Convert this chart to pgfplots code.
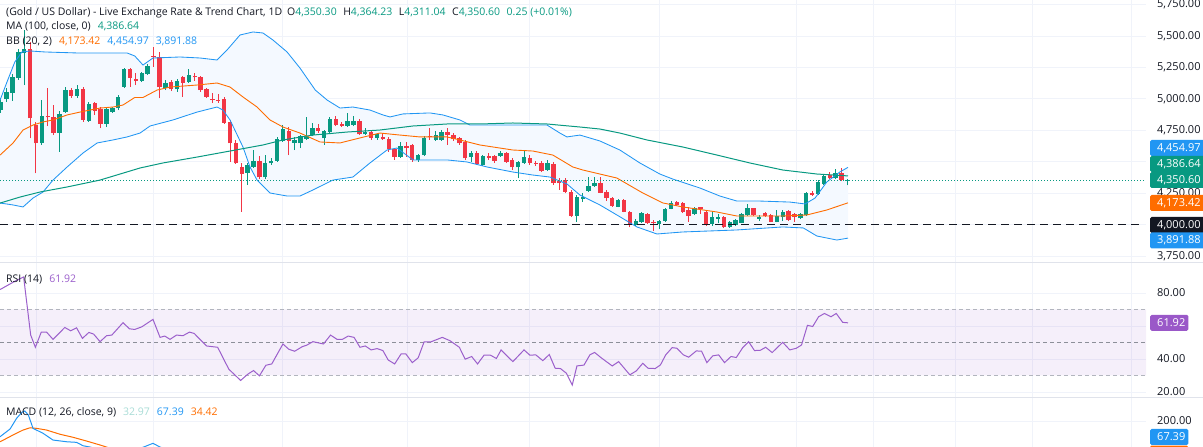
\documentclass[border=0pt]{standalone}
\usepackage{fontspec}
\setmainfont{Open Sans}
\usepackage{pgfplots}
\usepackage{pgfplotstable}
\pgfplotsset{compat=1.18}
\usepgfplotslibrary{fillbetween}

\definecolor{tvgreen}{HTML}{089981}
\definecolor{tvred}{HTML}{F23645}
\definecolor{tvorange}{HTML}{FF6D00}
\definecolor{tvblue}{HTML}{2196F3}
\definecolor{tvpurple}{HTML}{9B5FCB}
\definecolor{tvpbox}{HTML}{9A58C8}
\definecolor{tvtext}{HTML}{131722}
\definecolor{tvgrid}{HTML}{F0F3FA}
\definecolor{tvsep}{HTML}{E0E3EB}
\definecolor{tvdashA}{HTML}{B2B5BE}
\definecolor{tvdashB}{HTML}{8C8F99}
\definecolor{tvpale}{HTML}{A8DCD6}
\definecolor{bbfill}{HTML}{F4F9FF}

\newcommand\lf{\fontsize{10.5bp}{12bp}\selectfont}
\newcommand\tf{\fontsize{11bp}{13bp}\selectfont}

% green (up) candles: index open high low close
\pgfplotstableread{
i o h l c
0 4911 5007 4888 4977
1 4996 5086 4975 5057
2 5049 5198 4985 5176
3 5164 5397 5150 5375
4 5367 5548 5110 5394
7 4646 4991 4633 4864
10 4731 4903 4580 4880
11 4898 5094 4888 5070
13 5023 5110 5007 5076
15 4826 4975 4816 4957
18 4800 4935 4776 4917
19 4898 4935 4888 4925
20 4925 5031 4911 5017
21 5097 5245 5086 5235
24 5144 5214 5134 5203
25 5198 5277 5190 5261
28 5084 5150 5070 5128
30 5076 5158 5055 5144
32 5136 5235 5126 5190
42 4413 4490 4315 4474
43 4460 4593 4450 4508
45 4376 4553 4362 4492
46 4487 4529 4474 4508
47 4508 4697 4498 4678
48 4667 4792 4657 4758
50 4651 4699 4593 4673
51 4646 4712 4609 4704
52 4681 4858 4673 4699
53 4712 4805 4704 4766
55 4686 4752 4633 4744
56 4739 4856 4728 4840
59 4786 4885 4776 4826
60 4792 4864 4784 4826
62 4718 4766 4712 4739
64 4691 4731 4673 4718
68 4540 4659 4530 4625
71 4514 4561 4498 4553
72 4553 4704 4545 4691
74 4673 4744 4667 4712
75 4673 4752 4667 4739
80 4540 4585 4500 4572
82 4474 4553 4466 4545
85 4545 4585 4540 4572
88 4455 4506 4368 4495
89 4492 4593 4482 4535
93 4434 4514 4426 4487
98 4068 4235 4023 4217
99 4206 4249 4182 4222
100 4269 4376 4261 4307
101 4307 4376 4301 4333
105 4142 4203 4137 4195
108 3996 4044 3989 4031
109 4023 4102 4015 4094
112 4004 4039 3962 4031
113 4031 4132 4023 4121
114 4126 4190 4121 4174
118 4084 4140 4076 4129
121 4004 4102 3989 4058
122 4047 4084 4010 4063
124 3978 4028 3973 4023
125 3996 4047 3989 4036
126 4015 4092 4010 4084
127 4076 4164 4068 4129
129 4047 4076 4031 4058
132 4023 4116 4018 4068
133 4058 4116 4031 4102
136 4050 4092 4044 4084
137 4076 4261 4068 4253
139 4243 4354 4235 4341
140 4323 4402 4315 4386
142 4368 4440 4362 4408
144 4350.3 4364.23 4311.04 4350.6
}\upc

% red (down) candles
\pgfplotstableread{
i o h l c
5 5394 5452 4686 4845
6 4792 4816 4408 4646
8 4864 5084 4784 4853
9 4858 4951 4712 4731
12 5070 5086 5007 5023
14 5076 5094 4816 4832
16 4965 4977 4872 4906
17 4917 4935 4768 4800
22 5235 5245 5097 5164
23 5158 5206 5110 5144
26 5341 5415 5256 5331
27 5331 5375 5004 5092
29 5136 5150 5062 5076
31 5171 5182 5017 5128
33 5182 5203 5144 5171
34 5171 5182 5055 5070
35 5076 5086 5007 5017
36 4998 5044 4965 4990
37 4993 5039 4967 4985
38 4998 5015 4800 4810
39 4818 4832 4500 4646
40 4646 4673 4482 4487
41 4460 4490 4102 4402
44 4508 4545 4362 4376
49 4747 4776 4553 4667
54 4766 4798 4728 4747
57 4840 4864 4784 4792
58 4796 4818 4778 4788
61 4826 4840 4712 4718
63 4739 4744 4673 4691
65 4699 4731 4673 4678
66 4678 4699 4580 4599
67 4599 4609 4514 4540
69 4625 4659 4540 4607
70 4633 4641 4500 4514
73 4703 4766 4673 4695
76 4739 4766 4633 4712
77 4712 4726 4667 4678
78 4686 4697 4633 4646
79 4659 4673 4514 4527
81 4572 4588 4474 4482
83 4545 4567 4514 4532
84 4545 4553 4492 4508
86 4572 4580 4490 4500
87 4514 4527 4434 4455
90 4532 4553 4474 4492
91 4492 4508 4466 4482
92 4492 4506 4418 4428
94 4482 4498 4315 4333
95 4343 4370 4275 4327
96 4354 4368 4251 4261
97 4261 4275 4060 4068
102 4333 4381 4249 4253
103 4261 4275 4190 4209
104 4209 4219 4140 4148
106 4195 4203 4097 4102
107 4102 4108 3978 3996
110 4084 4092 4007 4015
111 4023 4036 3951 4010
115 4182 4190 4148 4156
116 4174 4179 4092 4102
117 4116 4142 4023 4068
119 4136 4142 4084 4128
120 4102 4110 3989 3996
123 4063 4068 3973 3978
128 4129 4134 4068 4076
130 4094 4102 4060 4068
131 4076 4084 4018 4023
134 4110 4116 4028 4036
135 4084 4092 4023 4058
138 4253 4267 4227 4235
141 4394 4421 4362 4368
143 4408 4448 4346 4354
}\dnc

% Bollinger upper band
\pgfplotstableread{
i v
-0.1 4991
1.2 5150
2.4 5293
3.6 5373
5.0 5381
7.5 5373
13.0 5365
16.9 5365
21.5 5365
22.8 5341
24.2 5269
25.9 5325
30.5 5333
33.9 5325
36.8 5309
38.5 5389
40.7 5508
42.9 5532
44.6 5524
46.3 5468
48.7 5373
50.9 5245
53.5 5070
55.5 4991
57.7 4927
59.9 4935
62.8 4911
65.0 4872
66.2 4856
68.4 4880
73.0 4888
75.2 4872
78.1 4832
79.8 4792
81.5 4792
87.1 4792
92.9 4792
95.1 4728
96.3 4697
98.5 4712
101.9 4665
105.3 4593
108.7 4490
112.1 4402
114.3 4362
118.9 4291
122.3 4227
125.2 4187
129.1 4187
134.2 4179
136.8 4164
138.5 4211
140.5 4339
142.7 4418
144.1 4455
}\bbup

% Bollinger basis
\pgfplotstableread{
i v
-0.1 4553
2.1 4649
3.8 4752
5.5 4792
7.2 4816
8.9 4832
11.3 4872
13.5 4895
16.9 4927
19.1 4935
20.8 4951
22.8 5011
24.2 5011
26.6 5070
28.8 5094
33.4 5110
36.8 5126
39.0 5094
41.2 5015
43.6 4935
45.8 4832
48.0 4776
50.9 4728
54.3 4657
57.7 4649
61.1 4689
64.5 4728
67.9 4712
71.3 4697
75.9 4697
78.1 4673
81.5 4633
87.1 4593
90.5 4585
93.9 4553
97.3 4458
99.0 4434
104.8 4370
109.2 4251
112.6 4172
116.0 4140
121.8 4100
125.2 4068
133.0 4068
137.1 4076
140.5 4116
144.1 4173
}\bbmid

% Bollinger lower band
\pgfplotstableread{
i v
-0.1 4171
2.1 4156
3.8 4140
5.5 4211
7.2 4259
8.9 4354
11.3 4458
14.0 4569
16.4 4649
19.1 4673
21.5 4697
23.7 4728
25.4 4784
29.3 4832
33.4 4895
36.8 4935
37.8 4911
39.0 4832
41.2 4617
42.4 4458
43.6 4354
45.8 4251
48.7 4227
50.9 4227
53.1 4275
56.5 4354
59.9 4378
62.8 4490
65.7 4593
67.4 4609
70.1 4514
75.9 4514
79.3 4498
82.7 4458
87.1 4418
90.5 4394
93.4 4378
96.3 4323
98.5 4235
101.9 4156
104.8 4076
108.2 3981
111.6 3925
116.0 3941
125.2 3957
133.0 3981
136.5 3973
138.8 3909
142.2 3877
144.1 3892
}\bblo

% MA 100
\pgfplotstableread{
i v
-0.1 4171
3.3 4219
6.7 4259
11.3 4299
16.9 4354
23.7 4450
27.6 4490
33.4 4537
39.0 4585
44.6 4633
48.0 4673
53.1 4712
58.9 4736
64.5 4752
70.1 4784
75.9 4800
81.5 4800
87.1 4808
92.9 4800
98.5 4776
101.9 4760
105.3 4728
109.9 4673
116.0 4617
121.8 4553
127.4 4490
133.0 4434
138.8 4402
144.1 4387
}\maline

% RSI 14
\pgfplotstableread{
i v
-0.1 82.1
2.5 87.3
3.9 89.7
5.1 54.5
5.9 47.1
6.9 56.3
7.8 56.3
8.9 51.9
10.9 59.1
11.9 57.1
12.9 58.9
13.9 52.5
15.0 56.1
15.8 55.1
16.9 50.5
18.0 54.1
18.9 54.5
20.8 62.0
21.9 58.3
22.8 57.9
24.0 59.5
25.9 64.0
27.1 53.1
27.9 53.9
28.8 51.9
29.9 54.5
31.0 54.1
32.1 56.3
32.9 55.5
35.0 47.9
36.9 47.1
38.8 33.8
40.8 27.0
42.1 31.0
43.0 33.0
44.0 29.8
45.1 36.2
46.1 37.0
48.0 49.1
49.0 45.9
50.0 44.7
51.3 47.5
52.0 48.3
53.1 50.5
54.9 49.1
56.1 54.5
57.2 51.9
58.1 51.9
59.1 53.9
60.1 53.1
61.1 47.1
62.0 47.9
63.0 45.5
64.0 46.3
65.0 45.1
65.9 39.4
67.0 37.0
68.1 43.1
68.9 43.1
70.0 37.8
71.0 40.7
72.0 50.3
73.1 50.3
75.1 53.1
76.4 51.1
78.0 47.1
79.0 39.9
80.1 41.5
81.1 37.0
82.2 42.3
83.3 42.3
84.3 40.3
85.1 45.5
87.1 38.4
89.0 45.5
90.0 42.3
91.0 42.5
92.2 39.0
93.3 42.7
94.3 34.4
95.2 34.2
96.2 31.4
97.2 24.2
98.0 35.8
99.2 36.3
100.2 42.5
101.0 44.0
102.1 40.8
104.0 35.8
105.1 38.4
107.0 30.4
108.1 32.8
109.2 37.4
110.1 34.4
111.3 34.2
112.2 36.4
113.1 42.5
114.2 46.9
115.0 46.5
116.1 42.5
117.0 41.1
118.3 44.9
119.2 44.7
120.1 37.8
121.1 41.9
122.1 42.5
123.1 37.8
124.2 41.5
125.1 40.9
126.2 46.9
127.2 50.5
128.2 45.1
129.2 45.3
130.1 47.1
131.2 43.9
133.0 50.1
134.2 45.5
135.3 46.5
136.2 48.5
137.2 60.4
138.1 59.7
139.1 65.6
140.1 67.6
141.2 65.6
142.1 67.6
143.2 62.2
144.1 61.92
}\rsi

\pgfplotsset{
  tvaxis/.style={
    scale only axis, width=1146bp, anchor=south west,
    xmin=-0.119, xmax=194.78,
    axis line style={draw=none}, tick style={draw=none},
    xtick={6,25.9,48,69.1,90,112.1,135.3,148.4,162.3,175.4,192.35},
    xticklabels={},
    xmajorgrids, ymajorgrids,
    grid style={tvgrid, line width=0.9bp},
    yticklabel pos=right,
    yticklabel style={anchor=west, inner sep=0pt, xshift=11bp, font=\tf, text=tvtext},
    clip=true,
  },
  wick/.style={draw=#1, line width=1bp, forget plot, mark=none,
    quiver={u=0, v={\thisrow{h}-\thisrow{l}}}},
  body/.style={draw=#1, line width=4.4bp, forget plot, mark=none,
    quiver={u=0, v={max(abs(\thisrow{c}-\thisrow{o}),9)}}},
}

\begin{document}
\begin{tikzpicture}

% ---------------- price pane ----------------
\begin{axis}[tvaxis, at={(0bp,184bp)}, height=263bp,
  ymin=3694.2, ymax=5786.4,
  ytick={3750,4000,4250,4500,4750,5000,5250,5500,5750},
  yticklabels={{3,750.00},{},{4,250.00},{},{4,750.00},{5,000.00},{5,250.00},{5,500.00},{5,750.00}}]
  \addplot[draw=none, name path=bbu, forget plot] table[x=i, y=v] {\bbup};
  \addplot[draw=none, name path=bbl, forget plot] table[x=i, y=v] {\bblo};
  \addplot[fill=bbfill, draw=none, forget plot] fill between[of=bbu and bbl];

  \addplot[wick=tvgreen] table[x=i, y=l] {\upc};
  \addplot[body=tvgreen] table[x=i, y expr={min(\thisrow{o},\thisrow{c})-(max(abs(\thisrow{c}-\thisrow{o}),9)-abs(\thisrow{c}-\thisrow{o}))/2}] {\upc};
  \addplot[wick=tvred] table[x=i, y=l] {\dnc};
  \addplot[body=tvred] table[x=i, y expr={min(\thisrow{o},\thisrow{c})-(max(abs(\thisrow{c}-\thisrow{o}),9)-abs(\thisrow{c}-\thisrow{o}))/2}] {\dnc};

  \addplot[tvblue, line width=0.85bp, forget plot] table[x=i, y=v] {\bbup};
  \addplot[tvblue, line width=0.85bp, forget plot] table[x=i, y=v] {\bblo};
  \addplot[tvorange, line width=0.9bp, forget plot] table[x=i, y=v] {\bbmid};
  \addplot[tvgreen, line width=1bp, forget plot] table[x=i, y=v] {\maline};

  \addplot[tvtext, line width=1.6bp, dash pattern=on 8bp off 5bp, forget plot] coordinates {(-0.119,4000) (194.3,4000)};
  \addplot[tvgreen, line width=0.9bp, dash pattern=on 1bp off 2bp, forget plot] coordinates {(-0.119,4350.6) (194.78,4350.6)};
\end{axis}

% ---------------- RSI pane ----------------
\begin{axis}[tvaxis, at={(0bp,49bp)}, height=135bp,
  ymin=16.36, ymax=98.18, ytick={20,40,60,80},
  yticklabels={20.00,40.00,{},80.00}]
  \addplot[draw=none, fill=tvpurple, fill opacity=0.1, forget plot] coordinates {(-1,30) (196,30) (196,70) (-1,70) (-1,30)};
  \addplot[tvdashA, line width=0.9bp, dash pattern=on 4bp off 3bp, forget plot] coordinates {(-0.119,70) (194.78,70)};
  \addplot[tvdashA, line width=0.9bp, dash pattern=on 4bp off 3bp, forget plot] coordinates {(-0.119,30) (194.78,30)};
  \addplot[tvdashB, line width=0.9bp, dash pattern=on 4bp off 3bp, forget plot] coordinates {(-0.119,50) (194.78,50)};
  \addplot[tvpurple, line width=1bp, forget plot] table[x=i, y=v] {\rsi};
\end{axis}

% ---------------- MACD pane ----------------
\begin{axis}[tvaxis, at={(0bp,0bp)}, height=49bp,
  ymin=-15.5, ymax=390.6, ytick={200}, yticklabels={200.00}]
  \addplot[tvorange, line width=1bp, forget plot] coordinates {
    (-0.1,28) (2.1,84) (3.8,125) (5.0,144) (6.1,139) (7.8,125) (10.1,90)
    (12.3,65) (14.6,34) (16.9,1) (18.0,-16) (19.2,-35)};
  \addplot[tvblue, line width=1bp, forget plot] coordinates {
    (-0.1,70) (1.6,134) (2.7,222) (3.6,272) (4.1,283) (4.7,250) (5.5,139)
    (7.2,98) (8.9,42) (11.2,28) (12.9,23) (14.0,-5) (15.2,-16) (16.3,-30)};
  \addplot[tvblue, line width=1bp, forget plot] coordinates {
    (23.5,-30) (24.3,-16) (25.9,15) (27.1,-16) (27.9,-30)};
\end{axis}

% pane separators
\draw[tvsep, line width=1bp] (0bp,184bp) -- (1203bp,184bp);
\draw[tvsep, line width=1bp] (0bp,49bp) -- (1203bp,49bp);

% legends
\node[anchor=west, inner sep=0pt, text=tvtext, font=\lf] at (6bp,434.3bp)
  {(Gold / US Dollar) - Live Exchange Rate \& Trend Chart, 1D\hspace{5bp}O\textcolor{tvgreen}{4,350.30}\hspace{6.5bp}H\textcolor{tvgreen}{4,364.23}\hspace{6.5bp}L\textcolor{tvgreen}{4,311.04}\hspace{6.5bp}C\textcolor{tvgreen}{4,350.60}\hspace{6.5bp}\textcolor{tvgreen}{0.25 (+0.01\%)}};
\node[anchor=west, inner sep=0pt, text=tvtext, font=\lf] at (6bp,420.3bp)
  {MA (100, close, 0)\hspace{7bp}\textcolor{tvgreen}{4,386.64}};
\node[anchor=west, inner sep=0pt, text=tvtext, font=\lf] at (6bp,405.3bp)
  {BB (20, 2)\hspace{7bp}\textcolor{tvorange}{4,173.42}\hspace{7bp}\textcolor{tvblue}{4,454.97}\hspace{7bp}\textcolor{tvblue}{3,891.88}};
\node[anchor=west, inner sep=0pt, text=tvtext, font=\lf] at (6bp,167bp)
  {RSI (14)\hspace{7bp}\textcolor{tvpurple}{61.92}};
\node[anchor=west, inner sep=0pt, text=tvtext, font=\lf] at (6bp,34.7bp)
  {MACD (12, 26, close, 9)\hspace{7bp}\textcolor{tvpale}{32.97}\hspace{7bp}\textcolor{tvblue}{67.39}\hspace{7bp}\textcolor{tvorange}{34.42}};

% price-scale value boxes
\tikzset{vbox/.style={fill=#1, text=white, font=\tf, anchor=west, inner xsep=0pt, inner ysep=0pt,
  minimum height=16bp, rounded corners=1.5bp}}
\node[vbox=tvblue, minimum width=53bp] at (1150bp,299bp) {\hspace*{7bp}4,454.97\hspace*{4bp}};
\node[vbox=tvgreen, minimum width=53bp] at (1150bp,283bp) {\hspace*{7bp}4,386.64\hspace*{4bp}};
\node[vbox=tvgreen, minimum width=53bp] at (1150bp,267bp) {\hspace*{7bp}4,350.60\hspace*{4bp}};
\node[vbox=tvorange, minimum width=53bp] at (1150bp,244bp) {\hspace*{7bp}4,173.42\hspace*{4bp}};
\node[vbox=tvtext, minimum width=53bp] at (1150bp,222bp) {\hspace*{7bp}4,000.00\hspace*{4bp}};
\node[vbox=tvblue, minimum width=53bp] at (1150bp,206.5bp) {\hspace*{7bp}3,891.88\hspace*{4bp}};
\node[vbox=tvpbox, minimum width=38bp] at (1150bp,124.2bp) {\hspace*{7bp}61.92\hspace*{3bp}};
\node[vbox=tvblue, minimum width=38bp] at (1150bp,10bp) {\hspace*{7bp}67.39\hspace*{3bp}};
\fill[tvorange, rounded corners=1.5bp] (1150bp,-12bp) rectangle (1188bp,1.5bp);

\pgfresetboundingbox
\path[use as bounding box] (0bp,0bp) rectangle (1203bp,447bp);
\end{tikzpicture}
\end{document}
